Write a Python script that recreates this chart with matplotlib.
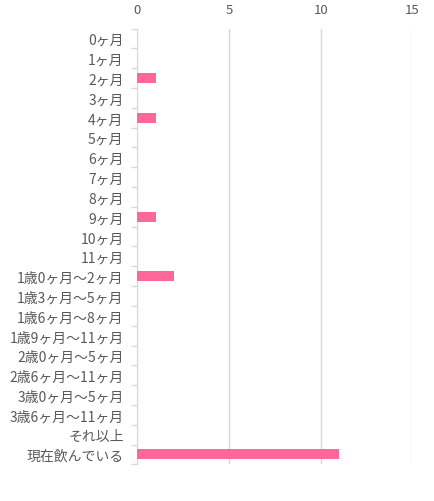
import numpy as np
import matplotlib
matplotlib.use("Agg")
import matplotlib.pyplot as plt

plt.rcParams["font.family"] = ["Noto Sans CJK JP", "DejaVu Sans"]

# ── Data ──────────────────────────────────────────────────────────────────────
categories = [
    "0ヶ月", "1ヶ月", "2ヶ月", "3ヶ月", "4ヶ月", "5ヶ月", "6ヶ月", "7ヶ月",
    "8ヶ月", "9ヶ月", "10ヶ月", "11ヶ月",
    "1歳0ヶ月～2ヶ月", "1歳3ヶ月～5ヶ月", "1歳6ヶ月～8ヶ月", "1歳9ヶ月～11ヶ月",
    "2歳0ヶ月～5ヶ月", "2歳6ヶ月～11ヶ月", "3歳0ヶ月～5ヶ月", "3歳6ヶ月～11ヶ月",
    "それ以上", "現在飲んでいる",
]
counts = [0, 0, 1, 0, 1, 0, 0, 0, 0, 1, 0, 0, 2, 0, 0, 0, 0, 0, 0, 0, 0, 11]
x_ticks = [0, 5, 10, 15]

BAR_COLOR = "#ff6699"
GRID_COLOR = "#d9d9d9"
TEXT_COLOR = "#595959"

fig = plt.figure(figsize=(4.35, 5.02), dpi=100)
ax = fig.add_axes([0.316, 0.073, 0.632, 0.868])

y = np.arange(len(categories))
ax.barh(y, counts, height=0.5, color=BAR_COLOR, zorder=3)

ax.set_xlim(0, 15)
ax.set_ylim(len(categories) - 0.5, -0.5)
ax.set_xticks(x_ticks)
ax.xaxis.tick_top()
ax.grid(axis="x", color=GRID_COLOR, linewidth=1, zorder=0)

ax.set_yticks(y)
ax.set_yticklabels(categories)
ax.set_yticks(np.arange(len(categories) + 1) - 0.5, minor=True)

ax.tick_params(axis="x", length=0, pad=9, labelsize=9.5, labelcolor=TEXT_COLOR)
ax.tick_params(axis="y", which="major", length=0, pad=10, labelsize=10,
               labelcolor=TEXT_COLOR)
ax.tick_params(axis="y", which="minor", length=4, color=GRID_COLOR, width=1)

for side in ["top", "right", "bottom"]:
    ax.spines[side].set_visible(False)
ax.spines["left"].set_color(GRID_COLOR)

fig.savefig("out.png", dpi=100)
